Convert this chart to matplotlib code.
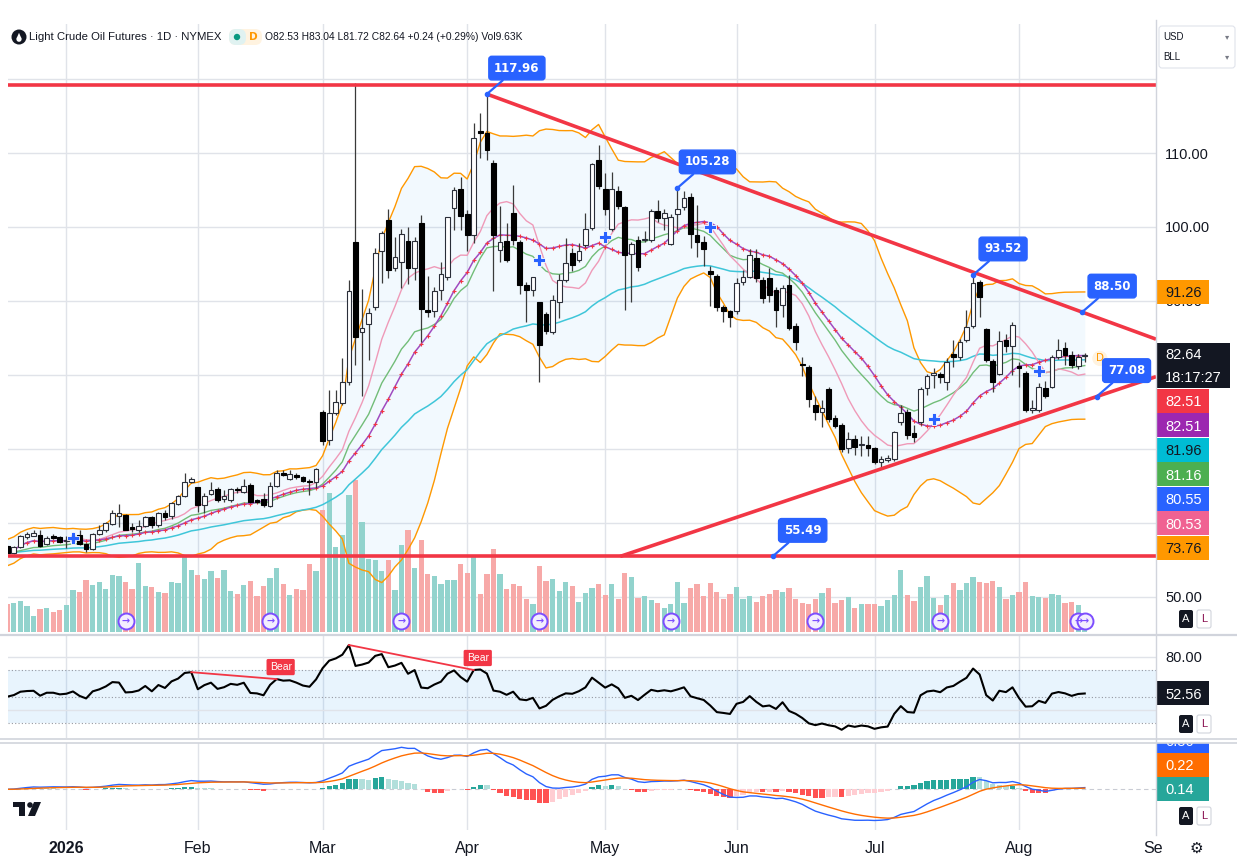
import numpy as np
import pandas as pd
import matplotlib
matplotlib.use('Agg')
import matplotlib.pyplot as plt
from matplotlib.patches import Rectangle, Circle, FancyBboxPatch, Polygon
from matplotlib.lines import Line2D
from matplotlib.transforms import Affine2D, blended_transform_factory

plt.rcParams['font.family'] = ['Liberation Sans', 'DejaVu Sans']

# ------------------------------------------------------------------
# daily bars, mid Dec 2025 .. mid Aug 2026
opens = [56.9, 56.0, 56.7, 58.1, 58.3, 58.4, 57.2, 58.2, 58.1, 57.6,
         57.6, 58.4, 57.1, 56.5, 58.5, 59.1, 59.9, 61.0, 61.1, 59.4,
         59.0, 59.6, 60.8, 59.7, 61.4, 60.9, 62.6, 63.6, 65.6, 64.8,
         62.4, 63.9, 64.6, 63.2, 63.1, 64.6, 64.2, 65.1, 63.1, 63.3,
         62.3, 65.0, 66.8, 65.9, 66.5, 66.2, 65.7, 65.5, 75.0, 71.2,
         74.8, 76.2, 79.1, 98.0, 85.8, 86.9, 89.2, 96.7, 100.9, 94.4,
         95.3, 98.1, 94.4, 100.5, 88.8, 88.6, 91.5, 93.3, 102.6, 105.1,
         101.7, 98.9, 113.0, 112.7, 108.7, 96.9, 98.1, 101.9, 98.0, 92.2,
         91.5, 89.8, 88.3, 85.8, 89.9, 92.9, 96.5, 95.5, 97.6, 99.8,
         109.1, 105.2, 99.7, 104.9, 102.7, 96.4, 98.2, 98.2, 98.3, 102.1,
         101.2, 97.7, 101.8, 102.7, 104.1, 98.9, 98.0, 94.0, 93.4, 89.2,
         88.6, 88.6, 92.6, 93.3, 95.8, 92.8, 93.1, 91.5, 89.5, 92.2,
         86.6, 81.5, 81.1, 75.9, 75.0, 78.1, 74.2, 73.2, 70.1, 71.4,
         70.5, 70.5, 70.1, 68.2, 68.5, 68.6, 73.7, 75.0, 72.1, 73.7,
         78.2, 80.0, 80.1, 79.0, 82.9, 82.5, 84.7, 86.6, 92.6, 86.2,
         81.9, 80.2, 84.7, 83.9, 81.2, 80.3, 75.3, 75.3, 78.2, 78.4,
         82.5, 83.6, 82.7, 81.2, 82.53]
highs = [57.0, 56.9, 58.4, 58.8, 59.0, 59.1, 58.3, 58.5, 58.3, 58.2,
         58.8, 59.1, 57.3, 58.7, 59.7, 60.2, 61.7, 62.6, 61.2, 60.0,
         60.4, 61.0, 61.0, 61.5, 61.8, 62.9, 63.8, 66.7, 66.2, 64.9,
         64.0, 65.6, 64.9, 64.5, 64.7, 64.8, 65.9, 65.4, 63.3, 64.0,
         65.5, 67.1, 67.1, 67.2, 66.7, 66.4, 65.9, 67.4, 75.3, 78.0,
         78.0, 82.3, 92.8, 119.4, 91.6, 89.0, 97.1, 99.4, 102.5, 98.7,
         99.7, 100.0, 98.7, 101.6, 93.4, 91.9, 95.3, 101.4, 105.4, 106.8,
         102.3, 114.0, 115.4, 117.96, 109.1, 102.8, 100.5, 105.7, 98.2, 92.6,
         93.3, 89.9, 88.5, 90.8, 93.7, 98.5, 97.1, 97.8, 101.9, 108.6,
         111.1, 107.3, 107.5, 105.5, 102.8, 98.0, 98.8, 99.4, 102.4, 103.7,
         102.4, 101.8, 105.28, 104.8, 104.6, 103.0, 98.8, 94.7, 93.7, 89.5,
         88.8, 93.1, 94.2, 97.0, 97.0, 93.3, 94.4, 91.9, 92.2, 93.5,
         87.0, 82.5, 81.4, 77.1, 76.6, 78.4, 74.6, 73.5, 72.3, 71.9,
         71.7, 71.7, 70.3, 69.0, 69.2, 72.5, 76.0, 75.4, 73.2, 78.4,
         80.1, 81.0, 80.4, 82.3, 84.7, 84.8, 88.8, 93.52, 92.8, 86.3,
         82.2, 85.9, 85.6, 87.2, 81.7, 80.5, 76.6, 78.9, 79.2, 82.7,
         84.9, 84.4, 83.3, 82.9, 83.04]
lows = [55.9, 55.8, 56.6, 57.9, 58.2, 56.8, 57.0, 57.8, 57.4, 56.6,
        57.5, 57.0, 56.1, 56.3, 58.4, 58.8, 59.7, 59.4, 59.0, 58.8,
        58.8, 59.4, 59.3, 59.4, 60.4, 60.6, 62.4, 63.5, 65.4, 61.5,
        61.4, 63.8, 62.9, 62.8, 62.9, 64.0, 64.1, 62.7, 62.7, 62.2,
        62.2, 64.9, 66.3, 65.8, 65.9, 65.5, 63.8, 64.7, 70.5, 70.5,
        74.6, 75.9, 78.6, 81.4, 77.1, 82.0, 88.8, 92.4, 93.1, 94.0,
        91.7, 92.3, 92.8, 84.5, 87.8, 87.9, 90.1, 92.8, 99.6, 99.6,
        96.7, 97.8, 109.3, 109.1, 91.3, 95.3, 95.3, 97.6, 91.0, 87.1,
        90.7, 79.1, 85.6, 85.5, 87.7, 92.6, 94.0, 95.3, 97.3, 99.6,
        105.2, 101.6, 99.4, 102.5, 88.8, 89.9, 94.0, 98.0, 98.0, 100.7,
        99.6, 97.6, 99.6, 102.3, 97.1, 96.0, 94.7, 89.3, 88.6, 87.2,
        86.5, 88.3, 92.2, 93.1, 92.6, 89.7, 89.9, 86.5, 87.9, 86.1,
        83.4, 79.8, 75.7, 73.9, 73.0, 73.7, 72.8, 69.6, 69.4, 69.2,
        69.0, 69.0, 68.0, 67.6, 68.3, 68.4, 73.2, 71.4, 71.0, 73.2,
        77.3, 78.2, 78.9, 78.0, 81.1, 82.0, 84.5, 86.4, 87.9, 81.8,
        77.7, 80.0, 83.1, 80.0, 78.4, 75.0, 74.8, 75.0, 76.9, 78.2,
        82.2, 81.3, 80.9, 80.8, 81.72]
closes = [56.0, 56.7, 58.2, 58.5, 58.6, 56.9, 58.0, 58.0, 57.5, 57.7,
          58.4, 57.2, 56.5, 58.5, 59.1, 60.0, 61.4, 61.3, 59.1, 59.2,
          59.6, 60.8, 59.7, 61.4, 60.8, 62.7, 63.6, 65.6, 65.9, 62.4,
          63.7, 64.5, 63.1, 63.6, 64.6, 64.4, 65.0, 62.9, 62.8, 62.4,
          65.0, 66.8, 66.5, 66.6, 66.2, 65.7, 65.5, 67.3, 71.1, 74.9,
          76.3, 79.0, 91.4, 85.1, 86.4, 88.4, 96.5, 99.2, 94.2, 96.0,
          99.1, 94.5, 98.1, 88.9, 88.5, 91.4, 93.7, 101.3, 105.0, 101.5,
          98.9, 112.0, 112.7, 110.4, 98.9, 98.0, 95.6, 98.2, 92.2, 91.5,
          93.2, 84.1, 85.9, 90.2, 92.9, 95.2, 94.9, 96.8, 99.7, 108.5,
          105.5, 102.4, 105.2, 102.8, 96.2, 97.7, 94.6, 98.3, 102.1, 101.2,
          101.9, 101.3, 102.5, 103.9, 99.1, 98.0, 97.0, 93.7, 89.2, 88.6,
          87.9, 92.4, 93.3, 96.2, 93.1, 90.4, 90.8, 88.8, 91.7, 86.4,
          84.4, 81.3, 76.7, 75.0, 75.6, 74.1, 73.1, 70.0, 71.4, 70.3,
          70.7, 70.1, 68.2, 68.6, 68.8, 72.3, 74.8, 71.9, 71.6, 78.1,
          79.9, 80.3, 79.7, 81.8, 82.5, 84.5, 86.5, 92.4, 90.5, 82.0,
          79.1, 84.6, 83.9, 86.8, 81.0, 75.3, 75.5, 78.4, 77.1, 82.4,
          83.4, 82.7, 81.4, 82.4, 82.64]
# volume in thousands of contracts
volumes = [14, 14.5, 15.5, 13, 8, 11.5, 12, 10, 11, 13.5,
           21, 20, 26, 23.5, 25, 21.5, 28.5, 28, 25, 21.5,
           34.5, 23, 22.5, 20, 19.5, 25, 24.5, 38, 31, 28.5,
           26.5, 30.5, 27, 31, 20.5, 19, 23.5, 25.5, 18, 23,
           27, 32, 24, 18.5, 21.5, 21, 34, 30.5, 61, 69.5,
           42.5, 48.5, 68.5, 76, 55, 36.5, 36, 30.5, 36, 21,
           43.5, 51, 32, 46, 29, 28, 24, 26, 26, 34,
           29.5, 38, 19, 29, 41.5, 29, 21.5, 24, 23, 16.5,
           14, 33, 25.5, 26.5, 20.5, 25, 23, 15, 19.5, 22,
           24, 18.5, 24, 16.5, 29.5, 27.5, 17, 18, 16, 14.5,
           12, 14, 25, 14.5, 22, 24, 18, 24.5, 20, 16.5,
           19, 22.5, 16.5, 18, 15, 18, 19, 21, 20, 22,
           16.5, 14.5, 14, 16.5, 19.5, 22, 14.5, 16, 17.5, 12,
           14, 14, 14, 13, 16, 18.5, 31, 18.5, 15.5, 22.5,
           28, 17, 13.5, 18.5, 24.5, 21, 24.5, 27.5, 25, 24.5,
           25.5, 22.5, 16.5, 18.5, 20, 25, 18, 17.5, 17, 19,
           18.5, 14.5, 15, 13.5, 9.63]

month_labels = ['2026', 'Feb', 'Mar', 'Apr', 'May', 'Jun', 'Jul', 'Aug', 'Sep']
month_bars = [9, 29, 48, 70, 91, 111, 132, 154, 175]

# drawings on the chart
resistance = 119.2
support = 55.49
upper_trend = [(73, 117.96), (163.6, 88.50)]
lower_trend = [(93.3, 55.49), (165.8, 77.08)]
callout_bars = [73, 102, 147, 163.6, 165.8, 116.5]
callout_prices = [117.96, 105.28, 93.52, 88.50, 77.08, 55.49]
cross_bars = [10, 81, 91, 107, 141, 157]
cross_prices = [58.0, 95.6, 98.7, 100.0, 74.0, 80.6]
roll_bars = [18, 40, 60, 81, 101, 123, 142, 163, 164]
bear_pairs = [(28, 41), (52, 71)]

# price scale tags
ma_tags = [82.51, 82.51, 81.96, 81.16, 80.55, 80.53, 73.76]
ma_tag_colors = ['#f23645', '#9c27b0', '#00bcd4', '#4caf50', '#2962ff', '#f06292', '#ff9800']
ma_tag_text = ['white', 'white', '#131722', 'white', 'white', 'white', '#131722']
bb_upper_tag = 91.26
rsi_tag = 52.56
macd_tags = [0.36, 0.22, 0.14]
macd_tag_colors = ['#2962ff', '#ff6d00', '#26a69a']

# ------------------------------------------------------------------
W, H = 1237, 860
fig = plt.figure(figsize=(W / 100, H / 100), dpi=100)
fig.patch.set_facecolor('white')
PX = Affine2D().scale(1 / W, -1 / H).translate(0, 1) + fig.transFigure

def box(x0, y0, x1, y1):
    return [x0 / W, 1 - y1 / H, (x1 - x0) / W, (y1 - y0) / H]

GRID = '#e0e3e9'
INK = '#131722'
LABEL_FS = 10.5
X0, X1 = 8, 1156
BAR_PX = 6.57
XL = 0.11
XR = XL + (X1 - X0) / BAR_PX

ax = fig.add_axes(box(X0, 24, X1, 632))
ax_rsi = fig.add_axes(box(X0, 636, X1, 738))
ax_macd = fig.add_axes(box(X0, 743, X1, 830))
for a in (ax, ax_rsi, ax_macd):
    a.set_axis_off()
    a.set_xlim(XL, XR)
    for m in month_bars:
        a.axvline(m, color=GRID, lw=1, zorder=0)

x = np.arange(len(closes))
o = np.array(opens); h = np.array(highs); l = np.array(lows); c = np.array(closes)
up = c >= o
close = pd.Series(closes)

# indicators
basis = close.rolling(20, min_periods=1).mean()
dev = close.rolling(20, min_periods=8).std(ddof=0).bfill()
bb_up = basis + 2 * dev
bb_lo = basis - 2 * dev
sma10 = close.rolling(10, min_periods=1).mean()
ema20 = close.ewm(span=20, adjust=False).mean()
ema50 = close.ewm(span=50, adjust=False).mean()

diff = close.diff().fillna(0).values
seed = np.abs(diff).mean() / 2
ag = al = seed
rsi = []
for d in diff:
    ag = (ag * 13 + max(d, 0)) / 14
    al = (al * 13 + max(-d, 0)) / 14
    rsi.append(100 - 100 / (1 + ag / al))
rsi = np.array(rsi)

macd = (close.ewm(span=12, adjust=False).mean() - close.ewm(span=26, adjust=False).mean()).values
signal = pd.Series(macd).ewm(span=9, adjust=False).mean().values
hist = macd - signal

# ---------------- main pane ----------------
PPU = 7.4
ax.set_ylim(100 - (632 - 227) / PPU, 100 + (227 - 24) / PPU)
for v in range(50, 130, 10):
    ax.axhline(v, color=GRID, lw=1, zorder=0)

ax.fill_between(x, bb_lo, bb_up, color='#2196f3', alpha=0.055, lw=0, zorder=1)

VOL_TOP = 608 / 2.0
vtr = blended_transform_factory(ax.transData, ax.transAxes)
ax.bar(x, np.array(volumes) / VOL_TOP, width=0.8, bottom=0,
       color=np.where(up, '#92d3cd', '#f7a9a8'), transform=vtr, zorder=1.5)
ax.plot(roll_bars, [0.018] * len(roll_bars), 'o', ms=11.5, mfc='#f3eefe', mec='#7c4dff',
        mew=1.4, transform=vtr, zorder=1.6)
for b in roll_bars:
    ax.text(b, 0.018, '→', transform=vtr, color='#7c4dff', fontsize=7, fontweight='bold',
            ha='center', va='center', family='DejaVu Sans', zorder=1.7)

ax.plot(x, bb_up, color='#ff9800', lw=1, zorder=2)
ax.plot(x, bb_lo, color='#ff9800', lw=1, zorder=2)
ax.plot(x, ema50, color='#3fc6d9', lw=1.1, zorder=2)
ax.plot(x, ema20, color='#72bd78', lw=1, zorder=2)
ax.plot(x, sma10, color='#ef9ab8', lw=1, zorder=2)
ax.plot(x, basis, color='#a04bc0', lw=1.1, zorder=2.1)
ax.plot(x, basis, ls='none', marker='+', ms=2.6, mew=0.8, color='#f23645', zorder=2.2)

# candles
body_lo = np.minimum(o, c)
body_h = np.maximum(np.abs(c - o), 0.12)
ax.vlines(x, l, h, color='#3a3a3a', lw=0.9, zorder=3)
ax.bar(x[up], body_h[up], bottom=body_lo[up], width=0.72, color='white',
       edgecolor='#2a2e39', lw=0.8, zorder=3.1)
ax.bar(x[~up], body_h[~up], bottom=body_lo[~up], width=0.72, color='black',
       edgecolor='black', lw=0.8, zorder=3.1)

ax.plot(cross_bars, cross_prices, 'P', ms=8, color='#2962ff', mec='white', mew=0.6, zorder=3.5)

RED = '#f23645'
ax.axhline(resistance, color=RED, lw=2.6, zorder=4)
ax.axhline(support, color=RED, lw=2.6, zorder=4)
for (xa, ya), (xb, yb) in (upper_trend, lower_trend):
    slope = (yb - ya) / (xb - xa)
    ax.plot([xa, XR], [ya, ya + slope * (XR - xa)], color=RED, lw=2.6,
            solid_capstyle='butt', zorder=4)

for b, p in zip(callout_bars, callout_prices):
    ax.annotate(f'{p:.2f}', xy=(b, p), xytext=(30, 26), textcoords='offset pixels',
                ha='center', va='center', color='white', fontsize=8.5, fontweight='bold',
                family='DejaVu Sans',
                bbox=dict(boxstyle='round,pad=0.45,rounding_size=0.25', fc='#2962ff', ec='#2962ff'),
                arrowprops=dict(arrowstyle='-', color='#2962ff', lw=1.6, shrinkA=0, shrinkB=0),
                zorder=8, annotation_clip=False)
    ax.plot(b, p, 'o', ms=3, color='#2962ff', zorder=8)

ax.text(x[-1] + 2.3, closes[-1] - 0.4, 'D', color='#ff9800', fontsize=7.5, ha='center',
        va='center', family='DejaVu Sans',
        bbox=dict(boxstyle='circle,pad=0.25', fc='#fff3e0', ec='none'), zorder=6)

# ---------------- RSI pane ----------------
RPPU = (738 - 636) / (95.5 - 19.0)
ax_rsi.set_ylim(19.0, 95.5)
ax_rsi.axhspan(30, 70, color='#2196f3', alpha=0.1, lw=0, zorder=0.5)
for v in (40, 80):
    ax_rsi.axhline(v, color=GRID, lw=1, zorder=0.6)
for v in (30, 50, 70):
    ax_rsi.axhline(v, color='#9598a1', lw=0.8, ls=(0, (1, 2)), zorder=0.7)
ax_rsi.plot(x, rsi, color='black', lw=1.5, zorder=2)
for i1, i2 in bear_pairs:
    ax_rsi.plot([i1, i2], [rsi[i1], rsi[i2]], color=RED, lw=1.3, zorder=3)
    ax_rsi.annotate('Bear', xy=(i2, rsi[i2]), xytext=(4, 12), textcoords='offset pixels',
                    ha='center', va='center', fontsize=7.5, color='white',
                    bbox=dict(boxstyle='round,pad=0.3,rounding_size=0.15', fc=RED, ec='none'),
                    zorder=5)

# ---------------- MACD pane ----------------
k = macd.max() / 42.0
ax_macd.set_ylim(-40.7 * k, 46.3 * k)
ax_macd.axhline(0, color='#c9ccd4', lw=0.8, ls=(0, (4, 3)), zorder=0.6)
hcol = []
for i, hv in enumerate(hist):
    prev = hist[i - 1] if i else hv
    if hv >= 0:
        hcol.append('#26a69a' if hv > prev else '#b2dfdb')
    else:
        hcol.append('#ffcdd2' if hv > prev else '#ff5252')
ax_macd.bar(x, hist, width=0.8, color=hcol, zorder=1)
ax_macd.plot(x, macd, color='#2962ff', lw=1, zorder=2)
ax_macd.plot(x, signal, color='#ff6d00', lw=1, zorder=2)

# ---------------- month labels ----------------
ax_x = fig.add_axes(box(X0, 832, 1162, 860))
ax_x.set_axis_off()
ax_x.set_xlim(XL, XL + (1162 - X0) / BAR_PX)
ax_x.set_ylim(0, 1)
for m, lab in zip(month_bars, month_labels):
    t = ax_x.text(m, 0.42, lab, ha='center', va='center', fontsize=11.5, color=INK,
                  fontweight='bold' if lab == '2026' else 'normal')
    t.set_clip_box(ax_x.bbox)
    t.set_clip_on(True)

# ---------------- price scales ----------------
def side_axes(y0, y1, share):
    a = fig.add_axes(box(X1, y0, W, y1), sharey=share)
    a.set_axis_off()
    a.set_xlim(X1, W)
    return a

def side_tag(a, ppu, yc, txt, fc, tc, x1=1209, hpx=24):
    a.add_patch(Rectangle((1157, yc - hpx / 2 / ppu), x1 - 1157, hpx / ppu, fc=fc, ec='none', zorder=5))
    t = a.text(1165, yc, txt, color=tc, ha='left', va='center_baseline', fontsize=LABEL_FS, zorder=6)
    t.set_clip_box(a.bbox)
    t.set_clip_on(True)

axr = side_axes(24, 632, ax)
for v in range(50, 120, 10):
    axr.text(1165, v, f'{v:.2f}', ha='left', va='center_baseline', fontsize=LABEL_FS, color=INK, zorder=1)
side_tag(axr, PPU, bb_upper_tag, f'{bb_upper_tag:.2f}', '#ff9800', INK)
last = closes[-1]
axr.add_patch(Rectangle((1157, last - 32.5 / PPU), 73, 45 / PPU, fc=INK, ec='none', zorder=5))
axr.text(1165, last + 1.5 / PPU, f'{last:.2f}', color='white', ha='left', va='center_baseline',
         fontsize=LABEL_FS, zorder=6)
axr.text(1165, last - 21.5 / PPU, '18:17:27', color='white', ha='left', va='center_baseline',
         fontsize=LABEL_FS, zorder=6)
for i, (v, fc, tc) in enumerate(zip(ma_tags, ma_tag_colors, ma_tag_text)):
    side_tag(axr, PPU, last - (45.5 + 24.5 * i) / PPU, f'{v:.2f}', fc, tc)

axr2 = side_axes(636, 738, ax_rsi)
axr2.text(1165, 80, '80.00', ha='left', va='center_baseline', fontsize=LABEL_FS, color=INK)
side_tag(axr2, RPPU, rsi_tag, f'{rsi_tag:.2f}', INK, 'white')

axr3 = side_axes(743, 830, ax_macd)
for i, (v, fc) in enumerate(zip(macd_tags, macd_tag_colors)):
    side_tag(axr3, 1 / k, macd_tags[-1] + (2 - i) * 24 * k, f'{v:.2f}', fc, 'white')

# ---------------- frame and chrome ----------------
def fline(xs, ys, **kw):
    fig.add_artist(Line2D(xs, ys, transform=PX, **kw))

fline([0, W], [634.5, 634.5], color='#d1d4dc', lw=1.6)
fline([0, W], [739, 739], color='#d1d4dc', lw=1.2)
fline([0, W], [742.5, 742.5], color='#d1d4dc', lw=1.2)
fline([X1, X1], [20, 835], color='#d1d4dc', lw=1)

def fbox(x0, y0, w, hh, r, **kw):
    fig.add_artist(FancyBboxPatch((x0, y0), w, hh, boxstyle=f'round,pad=0,rounding_size={r}',
                                  transform=PX, **kw))

def ftext(px, py, s, **kw):
    return fig.text(px, py, s, transform=PX, **kw)

for py in (619, 724, 816):
    fbox(1179, py - 9, 14, 18, 2, fc=INK, ec='none')
    ftext(1186, py, 'A', color='white', ha='center', va='center', fontsize=8)
    fbox(1197, py - 9, 14, 18, 2, fc='white', ec='#d1d4dc', lw=0.8)
    ftext(1204, py, 'L', color='#880e4f', ha='center', va='center', fontsize=8)
ftext(1196, 848, '⚙', color=INK, ha='center', va='center', fontsize=11, family='DejaVu Sans')

# header
fig.add_artist(Circle((19, 37), 7.5, transform=PX, fc=INK, ec='none'))
fig.add_artist(Circle((19, 39.2), 2.6, transform=PX, fc='white', ec='none'))
fig.add_artist(Polygon([(19, 32.8), (16.5, 38.5), (21.5, 38.5)], transform=PX, fc='white', ec='none'))
ftext(29, 37, 'Light Crude Oil Futures · 1D · NYMEX', ha='left', va='center', fontsize=8.2, color=INK)
fbox(229, 29, 33, 16, 7, fc='#fff3e0', ec='none')
fbox(229, 29, 17, 16, 7, fc='#e0f2f1', ec='none')
fig.add_artist(Circle((237, 37), 3.2, transform=PX, fc='#089981', ec='none'))
ftext(253, 37.5, 'D', color='#ff9800', ha='center', va='center', fontsize=7.5,
      fontweight='bold', family='DejaVu Sans')
ftext(265, 37, 'O82.53 H83.04 L81.72 C82.64 +0.24 (+0.29%) Vol9.63K', ha='left',
      va='center', fontsize=7.4, color=INK)

fbox(1159, 26, 76, 42, 3, fc='white', ec='#e0e3eb', lw=0.8)
ftext(1163, 37, 'USD', ha='left', va='center', fontsize=7, color=INK)
ftext(1163, 57, 'BLL', ha='left', va='center', fontsize=7, color=INK)
ftext(1227, 37, '▾', ha='center', va='center', fontsize=6, color='#787b86', family='DejaVu Sans')
ftext(1227, 57, '▾', ha='center', va='center', fontsize=6, color='#787b86', family='DejaVu Sans')

# TradingView logo
fig.add_artist(Rectangle((13, 802), 12, 5, transform=PX, fc=INK, ec='none'))
fig.add_artist(Rectangle((19, 802), 6, 14, transform=PX, fc=INK, ec='none'))
fig.add_artist(Circle((30, 805), 2.8, transform=PX, fc=INK, ec='none'))
fig.add_artist(Polygon([(34, 802), (41, 802), (35, 816), (28, 816)], transform=PX, fc=INK, ec='none'))

fig.savefig('out.png', dpi=100, facecolor='white')
